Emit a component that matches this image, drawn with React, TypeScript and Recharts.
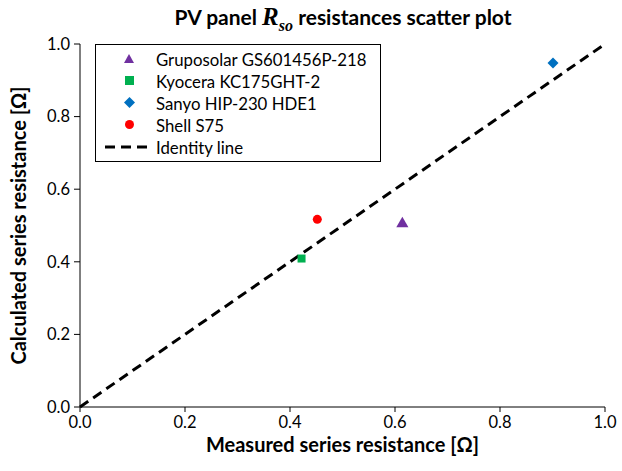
import React from 'react'
import {
  ScatterChart,
  Scatter,
  XAxis,
  YAxis,
  ZAxis,
  Legend,
  Label
} from 'recharts'

// measured vs calculated series resistance [Ω]
const gruposolar = [{ x: 0.614, y: 0.505 }]
const kyocera = [{ x: 0.422, y: 0.409 }]
const sanyo = [{ x: 0.901, y: 0.948 }]
const shell = [{ x: 0.452, y: 0.517 }]
const identity = [{ x: 0, y: 0 }, { x: 1, y: 1 }]
const ticks = [0, 0.2, 0.4, 0.6, 0.8, 1.0]

const font = 'Lato, "Open Sans", sans-serif'

const legendItems = [
  { name: 'Gruposolar GS601456P-218', color: '#7030A0', type: 'triangle' },
  { name: 'Kyocera KC175GHT-2', color: '#00B050', type: 'square' },
  { name: 'Sanyo HIP-230 HDE1', color: '#0070C0', type: 'diamond' },
  { name: 'Shell S75', color: '#FF0000', type: 'circle' },
  { name: 'Identity line', color: '#000', type: 'line' }
]

function Marker({ type, color }: { type: string; color: string }) {
  if (type === 'triangle') return <polygon points="15,4 20,13 10,13" fill={color} />
  if (type === 'square') return <rect x={11} y={4} width={9} height={9} fill={color} />
  if (type === 'diamond') return <polygon points="15.5,3 21,8.5 15.5,14 10,8.5" fill={color} />
  if (type === 'circle') return <circle cx={15.5} cy={8.5} r={4.5} fill={color} />
  return <line x1={1} y1={9} x2={48} y2={9} stroke={color} strokeWidth={3} strokeDasharray="10 6" />
}

// square diamond instead of the stretched built-in one
function DiamondDot(props: any) {
  const { cx, cy, fill } = props
  const r = 5.5
  return <polygon points={`${cx},${cy - r} ${cx + r},${cy} ${cx},${cy + r} ${cx - r},${cy}`} fill={fill} />
}

function LegendBox() {
  return (
    <div
      style={{
        border: '1px solid #000',
        background: '#fff',
        padding: '3px 8px 3px 8px',
        width: 268,
        fontFamily: font,
        fontSize: 16.8
      }}
    >
      {legendItems.map((it) => (
        <div key={it.name} style={{ display: 'flex', alignItems: 'center', height: 22 }}>
          <svg width={50} height={18} style={{ marginRight: 2 }}>
            <g transform={it.type === 'line' ? undefined : 'translate(10,0)'}>
              <Marker type={it.type} color={it.color} />
            </g>
          </svg>
          <span>{it.name}</span>
        </div>
      ))}
    </div>
  )
}

export default function App() {
  return (
    <div style={{ position: 'absolute', left: 0, top: 0, width: 622, height: 471, background: '#fff' }}>
      <div
        style={{
          position: 'absolute',
          top: 4,
          left: 81,
          width: 524,
          textAlign: 'center',
          fontFamily: font,
          fontWeight: 'bold',
          fontSize: 21,
          lineHeight: '26px'
        }}
      >
        PV panel{' '}
        <span style={{ fontFamily: '"Liberation Serif", serif', fontStyle: 'italic', fontSize: 25 }}>
          R<sub style={{ fontSize: 16, lineHeight: 0 }}>so</sub>
        </span>{' '}
        resistances scatter plot
      </div>
      <ScatterChart width={622} height={471} margin={{ top: 44, right: 17, bottom: 0, left: 0 }}>
        <XAxis
          type="number"
          dataKey="x"
          domain={[0, 1]}
          ticks={ticks}
          tickFormatter={(v: number) => v.toFixed(1)}
          tick={{ fill: '#000', fontSize: 16.5, fontFamily: font }}
          axisLine={{ stroke: '#000' }}
          tickLine={{ stroke: '#000' }}
          tickSize={5}
          tickMargin={4}
          height={64}
        >
          <Label
            value="Measured series resistance [Ω]"
            position="insideBottom"
            offset={19}
            style={{ fill: '#000', fontSize: 20, fontWeight: 'bold', fontFamily: font }}
          />
        </XAxis>
        <YAxis
          type="number"
          dataKey="y"
          domain={[0, 1]}
          ticks={ticks}
          tickFormatter={(v: number) => v.toFixed(1)}
          tick={{ fill: '#000', fontSize: 16.5, fontFamily: font }}
          axisLine={{ stroke: '#000' }}
          tickLine={{ stroke: '#000' }}
          tickSize={6}
          tickMargin={4}
          width={80}
        >
          <Label
            value="Calculated series resistance [Ω]"
            angle={-90}
            position="insideLeft"
            offset={19}
            style={{ textAnchor: 'middle', fill: '#000', fontSize: 20, fontWeight: 'bold', fontFamily: font }}
          />
        </YAxis>
        <ZAxis range={[70, 70]} />
        <Legend
          layout="horizontal"
          verticalAlign="middle"
          align="center"
          content={() => <LegendBox />}
          wrapperStyle={{ left: 95, top: 44, width: 'auto' }}
        />
        <Scatter
          name="Identity line"
          data={identity}
          line={{ stroke: '#000', strokeWidth: 3, strokeDasharray: '10 6' }}
          shape={() => null}
          isAnimationActive={false}
        />
        <Scatter name="Gruposolar GS601456P-218" data={gruposolar} fill="#7030A0" shape="triangle" isAnimationActive={false} />
        <Scatter name="Kyocera KC175GHT-2" data={kyocera} fill="#00B050" shape="square" isAnimationActive={false} />
        <Scatter name="Sanyo HIP-230 HDE1" data={sanyo} fill="#0070C0" shape={DiamondDot} isAnimationActive={false} />
        <Scatter name="Shell S75" data={shell} fill="#FF0000" shape="circle" isAnimationActive={false} />
      </ScatterChart>
    </div>
  )
}
